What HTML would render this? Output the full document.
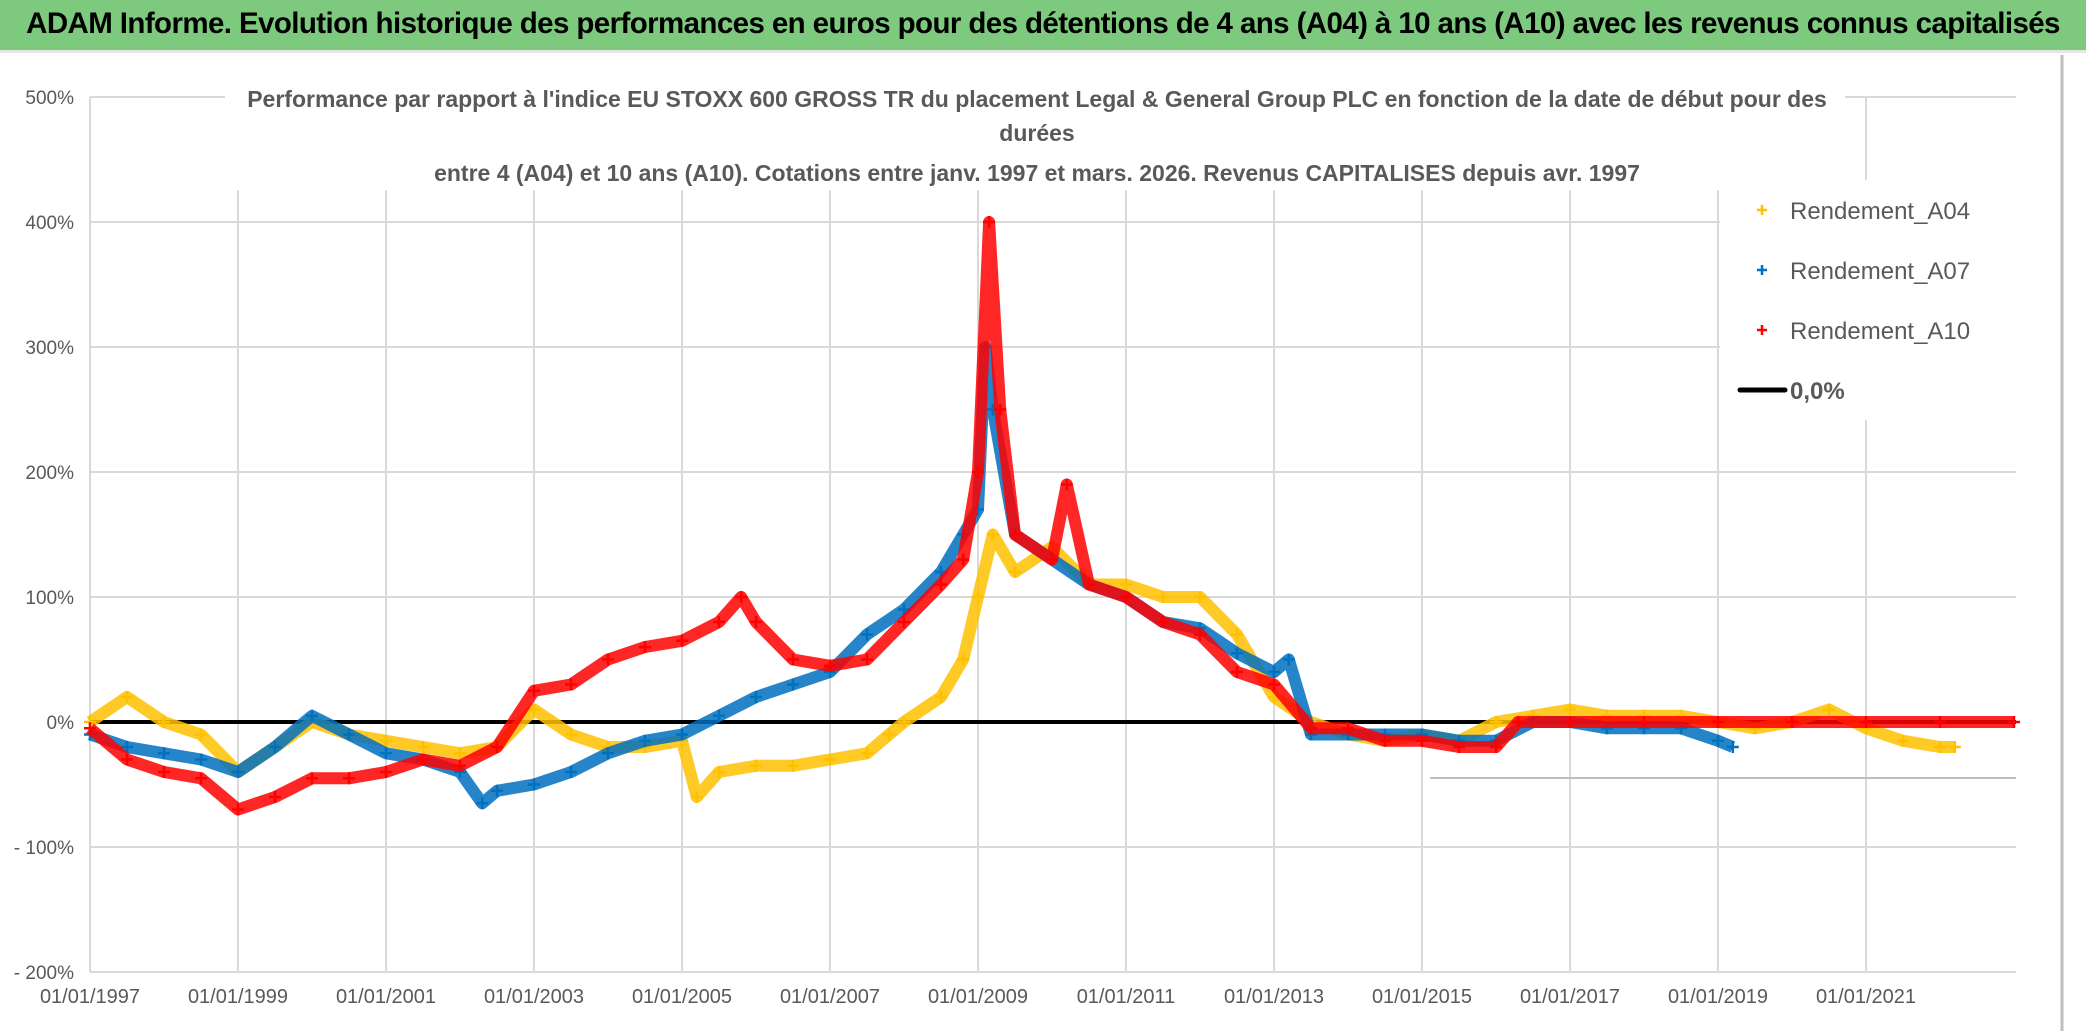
<!DOCTYPE html>
<html><head><meta charset="utf-8">
<style>
html,body{margin:0;padding:0;background:#fff;}
body{width:2086px;height:1031px;overflow:hidden;position:relative;font-family:"Liberation Sans",sans-serif;}
#hdr{position:absolute;left:0;top:0;width:2086px;height:50px;background:#7dc97d;border-bottom:3px solid #e6e6e6;}
#hdr span{position:absolute;left:0;width:2086px;top:7px;text-align:center;font-weight:bold;font-size:29.5px;color:#000;letter-spacing:-0.6px;}
svg{position:absolute;left:0;top:0;}
</style></head>
<body>
<div id="hdr"><span>ADAM Informe. Evolution historique des performances en euros pour des détentions de 4 ans (A04) à 10 ans (A10) avec les revenus connus capitalisés</span></div>
<svg id="chart" width="2086" height="1031"></svg>
<script>
const yTicks=[500,400,300,200,100,0,-100,-200];
const yTickLabels=["500%","400%","300%","200%","100%","0%","- 100%","- 200%"];
const xTickYears=[1997,1999,2001,2003,2005,2007,2009,2011,2013,2015,2017,2019,2021];
const xTickLabels=["01/01/1997","01/01/1999","01/01/2001","01/01/2003","01/01/2005","01/01/2007","01/01/2009","01/01/2011","01/01/2013","01/01/2015","01/01/2017","01/01/2019","01/01/2021"];
const a04Dates=[1997,1997.5,1998,1998.5,1999,1999.5,2000,2000.5,2001,2001.5,2002,2002.5,2003,2003.5,2004,2004.5,2005,2005.2,2005.5,2006,2006.5,2007,2007.5,2007.8,2008,2008.5,2008.8,2009,2009.2,2009.5,2010,2010.5,2011,2011.5,2012,2012.5,2013,2013.5,2014,2014.5,2015,2015.5,2016,2016.5,2017,2017.5,2018,2018.5,2019,2019.5,2020,2020.5,2021,2021.5,2022,2022.2];
const a04Values=[0,20,0,-10,-40,-20,0,-10,-15,-20,-25,-20,10,-10,-20,-20,-15,-60,-40,-35,-35,-30,-25,-10,0,20,50,100,150,120,140,110,110,100,100,70,20,0,-10,-15,-10,-15,0,5,10,5,5,5,0,-5,0,10,-5,-15,-20,-20];
const a07Dates=[1997,1997.5,1998,1998.5,1999,1999.5,2000,2000.5,2001,2001.5,2002,2002.3,2002.5,2003,2003.5,2004,2004.5,2005,2005.5,2006,2006.5,2007,2007.5,2008,2008.5,2008.8,2009,2009.1,2009.2,2009.5,2010,2010.5,2011,2011.5,2012,2012.5,2013,2013.2,2013.5,2014,2014.5,2015,2015.5,2016,2016.5,2017,2017.5,2018,2018.5,2019,2019.2];
const a07Values=[-10,-20,-25,-30,-40,-20,5,-10,-25,-30,-40,-65,-55,-50,-40,-25,-15,-10,5,20,30,40,70,90,120,150,170,300,250,150,130,110,100,80,75,55,40,50,-10,-10,-10,-10,-15,-15,0,0,-5,-5,-5,-15,-20];
const a10Dates=[1997,1997.5,1998,1998.5,1999,1999.5,2000,2000.5,2001,2001.5,2002,2002.5,2003,2003.5,2004,2004.5,2005,2005.5,2005.8,2006,2006.5,2007,2007.5,2008,2008.5,2008.8,2009,2009.15,2009.3,2009.5,2010,2010.2,2010.5,2011,2011.5,2012,2012.5,2013,2013.5,2014,2014.5,2015,2015.5,2016,2016.3,2017,2018,2019,2020,2021,2022,2023];
const a10Values=[-5,-30,-40,-45,-70,-60,-45,-45,-40,-30,-35,-20,25,30,50,60,65,80,100,80,50,45,50,80,110,130,200,400,250,150,130,190,110,100,80,70,40,30,-5,-5,-15,-15,-20,-20,0,0,0,0,0,0,0,0];
const seriesNames=["Rendement_A04","Rendement_A07","Rendement_A10"];
const seriesColors=["#ffc000","#0070c0","#ff0000"];

const X0=90,PX_PER_YEAR=74,Y0=722,PX_PER_PCT=1.25;
function xs(yr){return X0+(yr-1997)*PX_PER_YEAR;}
function ys(v){return Y0-v*PX_PER_PCT;}
const svg=document.getElementById('chart');
const NS="http://www.w3.org/2000/svg";
function mk(t,a){const e=document.createElementNS(NS,t);for(const k in a)e.setAttribute(k,a[k]);svg.appendChild(e);return e;}
const XEND=2016;
yTicks.forEach((v,i)=>{
  const g=mk('line',{x1:X0,x2:XEND,y1:ys(v),y2:ys(v),stroke:'#d9d9d9','stroke-width':2});
  
  
  const t=mk('text',{x:74,y:ys(v)+7,'text-anchor':'end','font-size':19,fill:'#595959','font-family':'Liberation Sans, sans-serif'});
  t.textContent=yTickLabels[i];
  
  
});
xTickYears.forEach((yr,i)=>{
  const g=mk('line',{x1:xs(yr),x2:xs(yr),y1:ys(500),y2:ys(-200),stroke:'#d9d9d9','stroke-width':2});
  
  
  const t=mk('text',{x:xs(yr),y:1003,'text-anchor':'middle','font-size':20,fill:'#595959','font-family':'Liberation Sans, sans-serif'});
  t.textContent=xTickLabels[i];
  
  
});
const ax=mk('line',{x1:1430,x2:XEND,y1:778,y2:778,stroke:'#bfbfbf','stroke-width':2});


const sb=mk('rect',{x:225,y:80,width:1620,height:110,fill:'#fff'});


const subs=["Performance par rapport à l'indice EU STOXX 600 GROSS TR  du placement Legal & General Group PLC en fonction de la date de début pour des","durées","entre 4 (A04) et 10 ans (A10). Cotations entre janv. 1997 et mars. 2026. Revenus CAPITALISES depuis avr. 1997"];
[107,141,181].forEach((y,i)=>{
  const t=mk('text',{x:1037,y:y,'text-anchor':'middle','font-size':23,'font-weight':'bold',fill:'#595959','font-family':'Liberation Sans, sans-serif'});
  t.textContent=subs[i];
  
  
});
const z=mk('line',{x1:X0,x2:XEND,y1:ys(0),y2:ys(0),stroke:'#000','stroke-width':4});


const allDates=[a04Dates,a07Dates,a10Dates],allVals=[a04Values,a07Values,a10Values];
[0,1,2].forEach(s=>{
  const d=allDates[s].map((yr,i)=>(i?'L':'M')+xs(yr).toFixed(1)+' '+ys(allVals[s][i]).toFixed(1)).join(' ');
  const p=mk('path',{d:d,fill:'none',stroke:seriesColors[s],'stroke-width':12,'stroke-linejoin':'round','stroke-opacity':0.85});
  
  
  allDates[s].forEach((yr,i)=>{
    const x=xs(yr),y=ys(allVals[s][i]);
    const m=mk('path',{d:`M${x-6} ${y}H${x+6}M${x} ${y-6}V${y+6}`,stroke:seriesColors[s],'stroke-width':2.5});
    
    
  });
});
const lb=mk('rect',{x:1720,y:180,width:330,height:240,fill:'#fff'});


[0,1,2].forEach(s=>{
  const y=210+s*60;
  const m=mk('path',{d:`M${1757} ${y}H${1767}M${1762} ${y-5}V${y+5}`,stroke:seriesColors[s],'stroke-width':2.5});
  
  
  const t=mk('text',{x:1790,y:y+9,'font-size':24,fill:'#595959','font-family':'Liberation Sans, sans-serif'});
  t.textContent=seriesNames[s];
  
  
});
const ll=mk('line',{x1:1740,x2:1785,y1:390,y2:390,stroke:'#000','stroke-width':5,'stroke-linecap':'round'});


const lt=mk('text',{x:1790,y:399,'font-size':24,'font-weight':'bold',fill:'#595959','font-family':'Liberation Sans, sans-serif'});
lt.textContent="0,0%";


const fr=mk('line',{x1:2062,x2:2062,y1:55,y2:1031,stroke:'#bfbfbf','stroke-width':3});


</script>
</body></html>
